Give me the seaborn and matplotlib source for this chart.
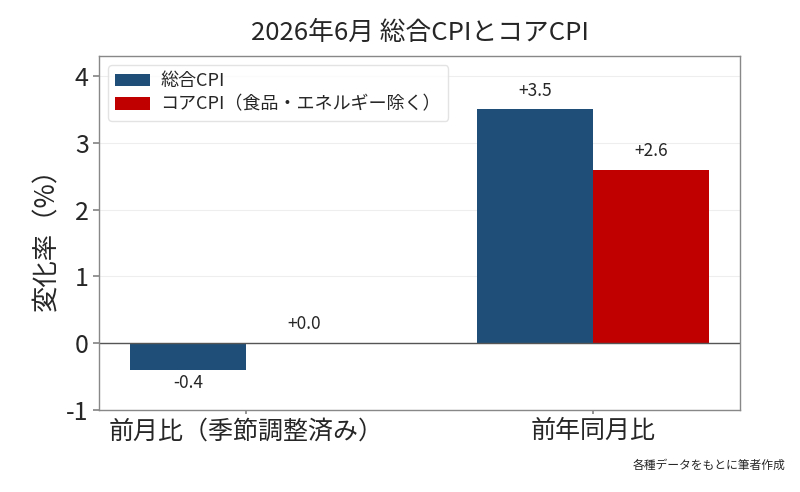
import pandas as pd
import numpy as np
import matplotlib.pyplot as plt
import seaborn as sns

# data
groups = ['前月比（季節調整済み）', '前年同月比']
series = ['総合CPI', 'コアCPI（食品・エネルギー除く）']
headline = [-0.4, 3.5]
core = [0.0, 2.6]
colors = ['#1f4e79', '#c00000']

df = pd.DataFrame({
    'group': groups * 2,
    'series': [series[0]] * 2 + [series[1]] * 2,
    'value': headline + core,
})

sns.set_theme(style='whitegrid')
plt.rcParams['font.family'] = ['Noto Sans CJK JP', 'DejaVu Sans']
plt.rcParams['axes.unicode_minus'] = False

fig, ax = plt.subplots(figsize=(8, 4.92), dpi=100)
sns.barplot(data=df, x='group', y='value', hue='series', palette=colors,
            width=0.67, saturation=1, ax=ax, edgecolor='none')

for cont in ax.containers:
    for bar in cont:
        h = bar.get_height()
        x = bar.get_x() + bar.get_width() / 2
        if h < 0:
            ax.annotate(f'{h:+.1f}', (x, h), xytext=(0, -3), textcoords='offset points',
                        ha='center', va='top', fontsize=12.5)
        else:
            ax.annotate(f'{h:+.1f}', (x, h), xytext=(0, 7), textcoords='offset points',
                        ha='center', va='bottom', fontsize=12.5)

ax.axhline(0, color='#555555', linewidth=1)
ax.set_xlim(-0.425, 1.425)
ax.set_ylim(-1, 4.3)
ax.set_yticks([-1, 0, 1, 2, 3, 4])
ax.grid(axis='y', color='#eeeeee', linewidth=0.8)
ax.grid(axis='x', visible=False)
ax.set_facecolor('white')
for s in ax.spines.values():
    s.set_color('#888888')
    s.set_linewidth(1)

ax.set_xlabel('')
ax.set_ylabel('変化率（%）', fontsize=19)
ax.tick_params(axis='y', labelsize=18, length=4, color='#888888', left=True)
ax.tick_params(axis='x', labelsize=18, length=3, color='#888888', bottom=True, pad=3)
ax.set_title('2026年6月 総合CPIとコアCPI', fontsize=18.5, pad=12)

ax.legend(loc='upper left', fontsize=13, frameon=True, edgecolor='#dddddd',
          handlelength=1.9, handletextpad=0.6, borderpad=0.4, labelspacing=0.3)

fig.text(0.982, 0.04, '各種データをもとに筆者作成', ha='right', va='bottom', fontsize=8.5)

fig.subplots_adjust(left=0.124, right=0.925, top=0.886, bottom=0.167)
plt.savefig('out.png', dpi=100)
